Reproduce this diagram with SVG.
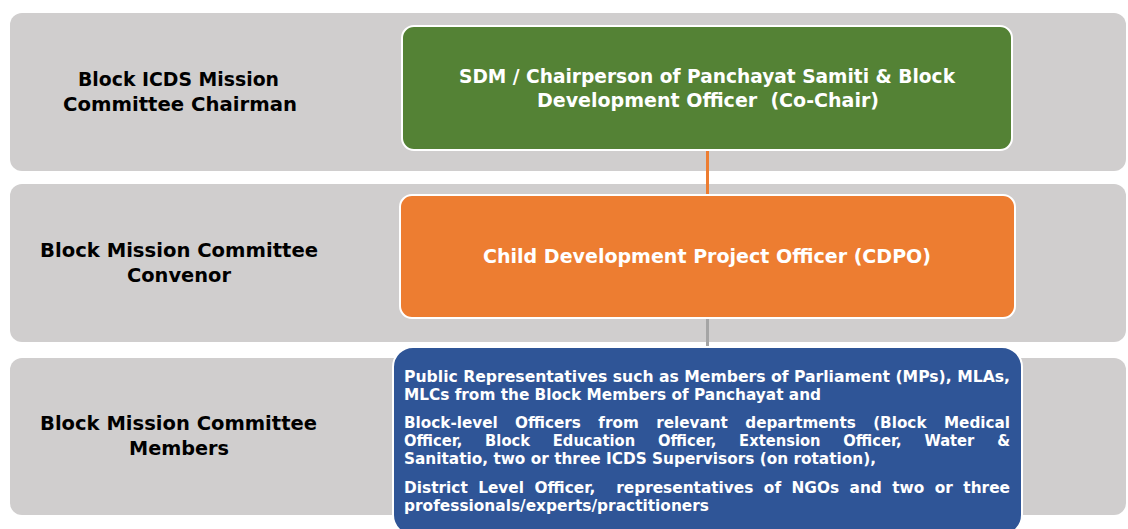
<svg xmlns="http://www.w3.org/2000/svg" width="1128" height="529" viewBox="0 0 1128 529">
<style>
.band{fill:#D0CECE;}
.lbl{font-family:"DejaVu Sans","Liberation Sans",sans-serif;font-weight:bold;font-size:20px;fill:#000;text-anchor:middle;}
.box{stroke:#FFFFFF;stroke-width:2;}
.bt{font-family:"DejaVu Sans","Liberation Sans",sans-serif;font-weight:bold;font-size:20px;fill:#FFFFFF;text-anchor:middle;}
.mt{font-family:"DejaVu Sans","Liberation Sans",sans-serif;font-weight:bold;font-size:15px;fill:#FFFFFF;white-space:pre;}
.conn{fill:none;stroke-width:3;}
</style>
<rect width="1128" height="529" fill="#FFFFFF"/>
<g id="bands">
<rect class="band" x="10" y="13" width="1116" height="158" rx="12"/>
<rect class="band" x="10" y="184" width="1116" height="158" rx="12"/>
<rect class="band" x="10" y="358" width="1116" height="157" rx="12"/>
</g>
<g id="label-chairman">
<text class="lbl" x="178.5" y="86" textLength="201" lengthAdjust="spacingAndGlyphs">Block ICDS Mission</text>
<text class="lbl" x="180" y="111" textLength="234" lengthAdjust="spacingAndGlyphs">Committee Chairman</text>
</g>
<g id="label-convenor">
<text class="lbl" x="179" y="257" textLength="278" lengthAdjust="spacingAndGlyphs">Block Mission Committee</text>
<text class="lbl" x="179" y="282" textLength="104" lengthAdjust="spacingAndGlyphs">Convenor</text>
</g>
<g id="label-members">
<text class="lbl" x="178.5" y="430" textLength="277" lengthAdjust="spacingAndGlyphs">Block Mission Committee</text>
<text class="lbl" x="179" y="455" textLength="100" lengthAdjust="spacingAndGlyphs">Members</text>
</g>
<g id="connectors">
<line class="conn" x1="707.5" y1="150" x2="707.5" y2="195" stroke="#ED7D31"/>
<line class="conn" x1="707.5" y1="318" x2="707.5" y2="347" stroke="#A5A5A5"/>
</g>
<g id="node-chair">
<rect class="box" x="402" y="26" width="610" height="124" rx="12" fill="#548235"/>
<text class="bt" x="707" y="83" textLength="496" lengthAdjust="spacingAndGlyphs">SDM / Chairperson of Panchayat Samiti &amp; Block</text>
<text class="bt" x="708" y="107" textLength="342" lengthAdjust="spacingAndGlyphs" style="white-space:pre">Development Officer  (Co-Chair)</text>
</g>
<g id="node-cdpo">
<rect class="box" x="400" y="195" width="615" height="123" rx="12" fill="#ED7D31"/>
<text class="bt" x="707" y="263" textLength="448" lengthAdjust="spacingAndGlyphs">Child Development Project Officer (CDPO)</text>
</g>
<g id="node-members">
<rect class="box" x="393" y="347" width="629" height="188" rx="20" fill="#2F5597"/>
<text class="mt" x="404" y="382" textLength="606" lengthAdjust="spacingAndGlyphs">Public Representatives such as Members of Parliament (MPs), MLAs,</text>
<text class="mt" x="404" y="400" textLength="417" lengthAdjust="spacingAndGlyphs">MLCs from the Block Members of Panchayat and</text>
<text class="mt" x="404" y="428" textLength="606" lengthAdjust="spacingAndGlyphs" word-spacing="12">Block-level Officers from relevant departments (Block Medical</text>
<text class="mt" x="404" y="446" textLength="606" lengthAdjust="spacingAndGlyphs" word-spacing="18">Officer, Block Education Officer, Extension Officer, Water &amp;</text>
<text class="mt" x="404" y="464" textLength="472" lengthAdjust="spacingAndGlyphs">Sanitatio, two or three ICDS Supervisors (on rotation),</text>
<text class="mt" x="404" y="493" textLength="606" lengthAdjust="spacingAndGlyphs" word-spacing="5">District Level Officer,  representatives of NGOs and two or three</text>
<text class="mt" x="404" y="511" textLength="305" lengthAdjust="spacingAndGlyphs">professionals/experts/practitioners</text>
</g>
</svg>
